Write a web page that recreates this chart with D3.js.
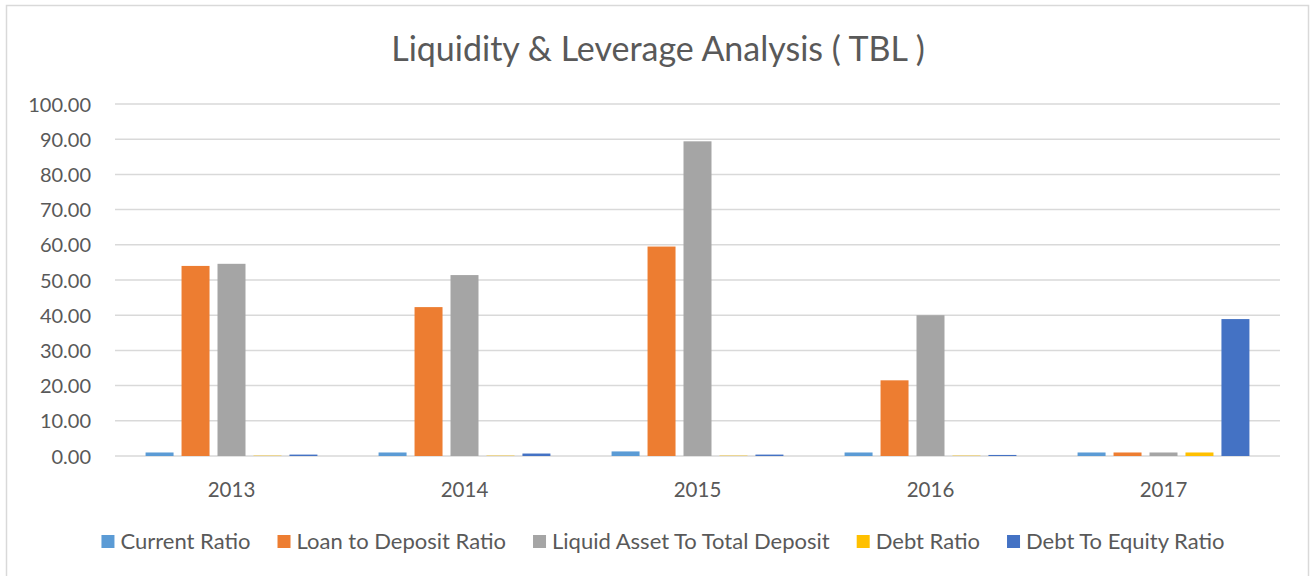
<!DOCTYPE html>
<html><head><meta charset="utf-8">
<script src="https://cdn.jsdelivr.net/npm/d3@7"></script>
<style>body{margin:0;background:#fff}svg{display:block;font-family:Lato,"Noto Sans",sans-serif}</style>
</head><body><svg id="c" width="1310" height="576"></svg>
<script>
const categories = ["2013","2014","2015","2016","2017"];
const seriesNames = ["Current Ratio","Loan to Deposit Ratio","Liquid Asset To Total Deposit","Debt Ratio","Debt To Equity Ratio"];
const currentRatio = [1.0, 1.0, 1.3, 1.0, 1.0];
const loanToDeposit = [54.0, 42.3, 59.5, 21.5, 1.0];
const liquidAssetToDeposit = [54.6, 51.4, 89.4, 40.0, 1.0];
const debtRatio = [0.1, 0.1, 0.1, 0.1, 1.0];
const debtToEquity = [0.4, 0.7, 0.4, 0.3, 38.9];
const yTicks = [0,10,20,30,40,50,60,70,80,90,100];
const colors = ["#5B9BD5","#ED7D31","#A5A5A5","#FFC000","#4472C4"];
const seriesValues = [currentRatio, loanToDeposit, liquidAssetToDeposit, debtRatio, debtToEquity];

const svg = d3.select("#c");
const txt = "#595959";
svg.append("rect").attr("x",6.5).attr("y",5.5).attr("width",1302).attr("height",600)
  .attr("fill","#fff").attr("stroke","#d9d9d9").attr("stroke-width",1.5);

svg.append("text").attr("x",658).attr("y",61).attr("text-anchor","middle")
  .attr("font-size",34).attr("fill",txt).text("Liquidity & Leverage Analysis ( TBL )");

const x0 = d3.scaleBand().domain(categories).range([115,1280]).padding(0);
const x1 = d3.scaleBand().domain(d3.range(seriesNames.length)).range([0,x0.bandwidth()])
  .paddingInner(0.222).paddingOuter(0.85);
const y = d3.scaleLinear().domain([0,100]).range([456,104]);

const g = svg.append("g");
g.selectAll("line.grid").data(yTicks).join("line").attr("class","grid")
  .attr("x1",115).attr("x2",1280).attr("y1",d=>y(d)).attr("y2",d=>y(d))
  .attr("stroke","#d9d9d9").attr("stroke-width",1.5);

const yAxis = d3.axisLeft(y).tickValues(yTicks).tickFormat(d3.format(".2f")).tickSize(0).tickPadding(0);
const ya = svg.append("g").attr("transform","translate(91,0)").call(yAxis);
ya.select(".domain").remove();
ya.selectAll("text").attr("font-size",20).attr("fill",txt).attr("font-family","Lato,'Noto Sans',sans-serif").attr("dy","0.35em");

seriesValues.forEach((vals,si)=>{
  g.selectAll("rect.s"+si).data(vals).join("rect").attr("class","s"+si)
    .attr("x",(d,i)=>x0(categories[i])+x1(si))
    .attr("width",x1.bandwidth())
    .attr("y",d=>y(d)).attr("height",d=>y(0)-y(d))
    .attr("fill",colors[si]);
});

const xAxis = d3.axisBottom(x0).tickSize(0).tickPadding(0);
const xa = svg.append("g").attr("transform","translate(0,456)").call(xAxis);
xa.select(".domain").remove();
xa.selectAll("text").attr("font-size",20.5).attr("fill",txt).attr("font-family","Lato,'Noto Sans',sans-serif").attr("dy",null).attr("y",41);

// legend
const lg = svg.append("g");
let xpos = 0;
seriesNames.forEach((n,i)=>{
  const it = lg.append("g");
  it.append("rect").attr("x",0).attr("y",-14).attr("width",13).attr("height",13).attr("fill",colors[i]);
  const t = it.append("text").attr("x",19).attr("y",0).attr("font-size",22).attr("fill",txt).text(n);
  const w = t.node().getComputedTextLength();
  it.attr("transform",`translate(${xpos},0)`);
  xpos += 19 + w + 27;
});
const total = xpos - 27;
lg.attr("transform",`translate(${663 - total/2},549)`);
</script></body></html>
